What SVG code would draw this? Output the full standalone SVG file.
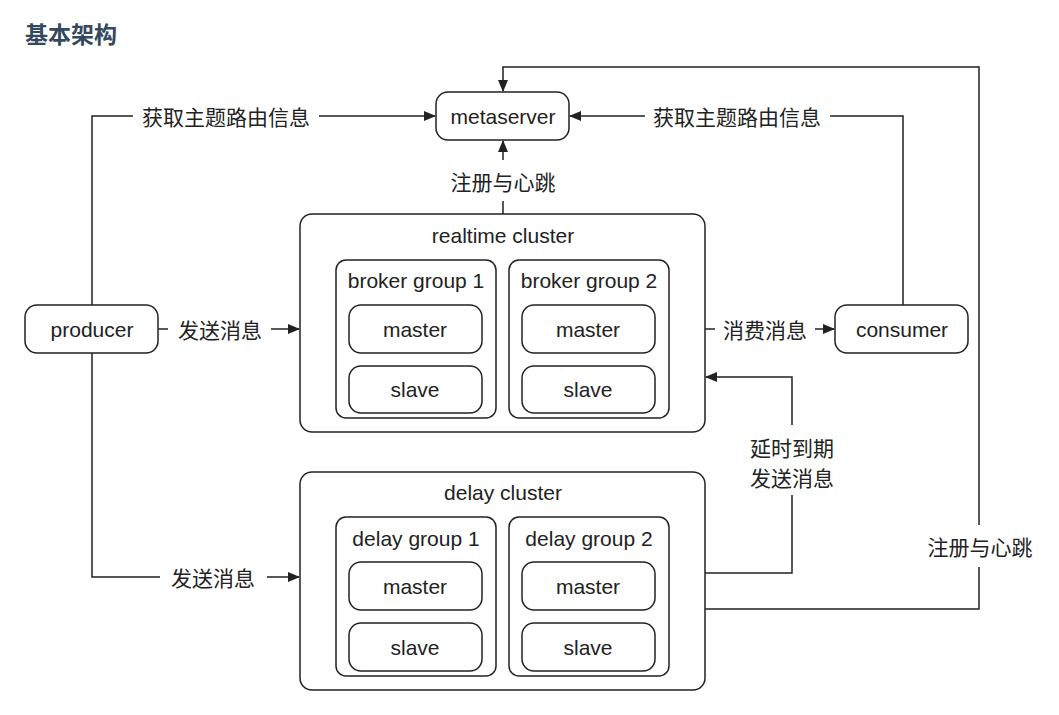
<svg xmlns="http://www.w3.org/2000/svg" width="1059" height="715" viewBox="0 0 1059 715">
<style>
.box{fill:#fff;stroke:#222;stroke-width:1.5}
.ln{fill:none;stroke:#222;stroke-width:1.5}
.t{font-family:"Liberation Sans","Noto Sans CJK SC",sans-serif;font-size:21px;fill:#222;text-anchor:middle;dominant-baseline:central}
.c{font-family:"Noto Sans CJK SC","Liberation Sans",sans-serif;font-size:21px;fill:#222;text-anchor:middle;dominant-baseline:central}
</style>
<defs>
<marker id="ah" markerWidth="12" markerHeight="10" refX="11" refY="5" orient="auto" markerUnits="userSpaceOnUse">
<path d="M0,0 L12,5 L0,10 z" fill="#222"/>
</marker>
</defs>
<rect width="1059" height="715" fill="#fff"/>
<text x="25" y="33" font-family="Noto Sans CJK SC, sans-serif" font-size="23" font-weight="bold" fill="#34495e" dominant-baseline="central">基本架构</text>

<g id="connectors">
<path class="ln" d="M92,305 V116 H133" />
<path class="ln" d="M319,116 H435" marker-end="url(#ah)"/>
<text class="c" x="226" y="116">获取主题路由信息</text>
<path class="ln" d="M903,305 V116 H830" />
<path class="ln" d="M645,116 H570" marker-end="url(#ah)"/>
<text class="c" x="737" y="116">获取主题路由信息</text>
<path class="ln" d="M503,160 V141" marker-end="url(#ah)"/>
<text class="c" x="503" y="181">注册与心跳</text>
<path class="ln" d="M503,201 V214"/>
<path class="ln" d="M705,609 H979 V567"/>
<path class="ln" d="M979,525 V67 H503 V91" marker-end="url(#ah)"/>
<text class="c" x="980" y="546">注册与心跳</text>
<path class="ln" d="M158,329 H168"/>
<path class="ln" d="M271,329 H299" marker-end="url(#ah)"/>
<text class="c" x="220" y="329">发送消息</text>
<path class="ln" d="M705,329 H715"/>
<path class="ln" d="M815,329 H834" marker-end="url(#ah)"/>
<text class="c" x="765" y="329">消费消息</text>
<path class="ln" d="M705,573 H792 V495"/>
<path class="ln" d="M792,425 V377 H706" marker-end="url(#ah)"/>
<text class="c" x="792" y="447">延时到期</text>
<text class="c" x="792" y="477">发送消息</text>
<path class="ln" d="M92,353 V577 H160"/>
<path class="ln" d="M267,577 H299" marker-end="url(#ah)"/>
<text class="c" x="213" y="577">发送消息</text>
</g>

<g id="metaserver"><rect class="box" x="436" y="92" width="133" height="48" rx="12"/><text class="t" x="503" y="116">metaserver</text></g>
<g id="producer"><rect class="box" x="25" y="305" width="133" height="48" rx="12"/><text class="t" x="92" y="329">producer</text></g>
<g id="consumer"><rect class="box" x="835" y="305" width="133" height="48" rx="12"/><text class="t" x="902" y="329">consumer</text></g>

<g id="realtime-cluster">
<rect class="box" x="300" y="214" width="405" height="218" rx="12"/>
<text class="t" x="503" y="235">realtime cluster</text>
<g id="broker-group-1">
<rect class="box" x="336" y="260" width="160" height="158" rx="10"/>
<text class="t" x="416" y="280">broker group 1</text>
<g id="bg1-master"><rect class="box" x="349" y="305" width="133" height="48" rx="12"/><text class="t" x="415" y="329">master</text></g>
<g id="bg1-slave"><rect class="box" x="349" y="366" width="133" height="47" rx="12"/><text class="t" x="415" y="389">slave</text></g>
</g>
<g id="broker-group-2">
<rect class="box" x="509" y="260" width="160" height="158" rx="10"/>
<text class="t" x="589" y="280">broker group 2</text>
<g id="bg2-master"><rect class="box" x="522" y="305" width="133" height="48" rx="12"/><text class="t" x="588" y="329">master</text></g>
<g id="bg2-slave"><rect class="box" x="522" y="366" width="133" height="47" rx="12"/><text class="t" x="588" y="389">slave</text></g>
</g>
</g>

<g id="delay-cluster">
<rect class="box" x="300" y="472" width="405" height="218" rx="12"/>
<text class="t" x="503" y="492">delay cluster</text>
<g id="delay-group-1">
<rect class="box" x="336" y="517" width="160" height="159" rx="10"/>
<text class="t" x="416" y="538">delay group 1</text>
<g id="dg1-master"><rect class="box" x="349" y="562" width="133" height="48" rx="12"/><text class="t" x="415" y="586">master</text></g>
<g id="dg1-slave"><rect class="box" x="349" y="623" width="133" height="48" rx="12"/><text class="t" x="415" y="647">slave</text></g>
</g>
<g id="delay-group-2">
<rect class="box" x="509" y="517" width="160" height="159" rx="10"/>
<text class="t" x="589" y="538">delay group 2</text>
<g id="dg2-master"><rect class="box" x="522" y="562" width="133" height="48" rx="12"/><text class="t" x="588" y="586">master</text></g>
<g id="dg2-slave"><rect class="box" x="522" y="623" width="133" height="48" rx="12"/><text class="t" x="588" y="647">slave</text></g>
</g>
</g>
</svg>
